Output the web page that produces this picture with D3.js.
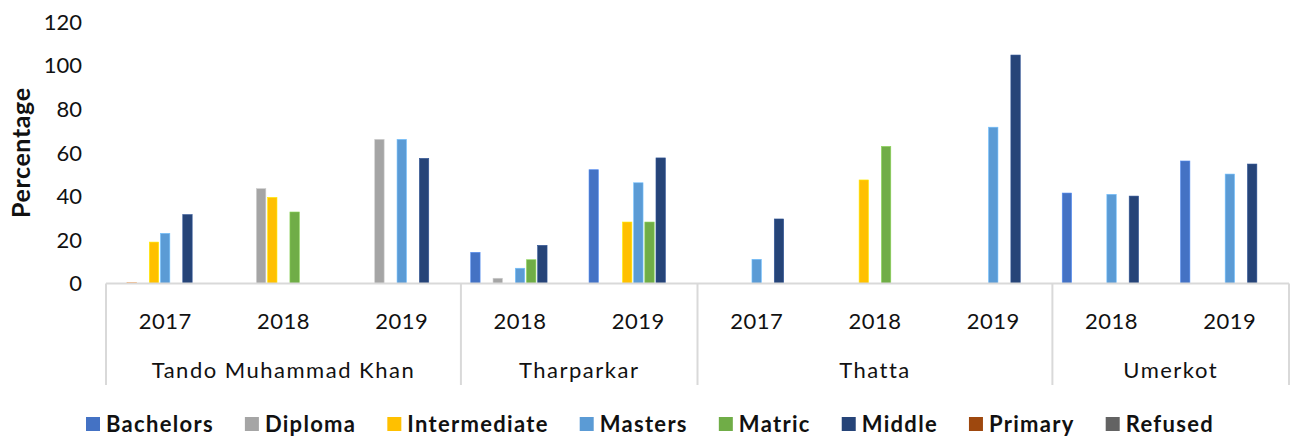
<!DOCTYPE html>
<html>
<head>
<meta charset="utf-8">
<script src="https://cdn.jsdelivr.net/npm/d3@7"></script>
<style>
  html, body { margin: 0; padding: 0; background: #fff; }
  svg { display: block; font-family: Lato, "Open Sans", sans-serif; }
</style>
</head>
<body>
<svg id="chart" width="1291" height="441"></svg>
<script>
// ---- data ----
const districts = ["Tando Muhammad Khan", "Tharparkar", "Thatta", "Umerkot"];
const groups = [
  ["Tando Muhammad Khan", "2017"], ["Tando Muhammad Khan", "2018"], ["Tando Muhammad Khan", "2019"],
  ["Tharparkar", "2018"], ["Tharparkar", "2019"],
  ["Thatta", "2017"], ["Thatta", "2018"], ["Thatta", "2019"],
  ["Umerkot", "2018"], ["Umerkot", "2019"]
];
// series in plotting order ("" = series without legend entry)
const seriesNames = ["Bachelors", "", "Diploma", "Intermediate", "Masters", "Matric", "Middle", "Primary", "Refused"];
const seriesColors = ["#4472C4", "#ED7D31", "#A5A5A5", "#FFC000", "#5B9BD5", "#70AD47", "#264478", "#9E480E", "#636363"];
const bachelors    = [0, 0, 0, 14.3, 52.2, 0, 0, 0, 41.5, 56.2];
const unnamed      = [0.4, 0, 0, 0, 0, 0, 0, 0, 0, 0];
const diploma      = [0, 43.5, 66.1, 2.4, 0, 0, 0, 0, 0, 0];
const intermediate = [19, 39.5, 0, 0, 28.2, 0, 47.5, 0, 0, 0];
const masters      = [23, 0, 66.1, 7, 46.2, 11.1, 0, 71.7, 40.9, 50.2];
const matric       = [0, 32.8, 0, 10.9, 28.2, 0, 62.9, 0, 0, 0];
const middle       = [31.6, 0, 57.4, 17.5, 57.6, 29.6, 0, 104.8, 40.1, 54.8];
const primary      = [0, 0, 0, 0, 0, 0, 0, 0, 0, 0];
const refused      = [0, 0, 0, 0, 0, 0, 0, 0, 0, 0];
const seriesValues = [bachelors, unnamed, diploma, intermediate, masters, matric, middle, primary, refused];
const yTicks = [0, 20, 40, 60, 80, 100, 120];
const yTitle = "Percentage";

// ---- layout ----
const svg = d3.select("#chart");
const plotLeft = 106, plotRight = 1289, plotTop = 21.9, plotBase = 283.5, catBottom = 385;

const x0 = d3.scaleBand().domain(d3.range(groups.length)).range([plotLeft, plotRight]).padding(0);
const x1 = d3.scaleBand().domain(d3.range(seriesNames.length)).range([0, x0.bandwidth()])
  .paddingInner(0).paddingOuter(0.8);
const y = d3.scaleLinear().domain([0, 120]).range([plotBase, plotTop]);

// y tick labels
svg.append("g").selectAll("text").data(yTicks).join("text")
  .attr("x", 82).attr("y", d => y(d)).attr("dy", "0.36em")
  .attr("text-anchor", "end").attr("font-size", 22).attr("fill", "#111")
  .text(d => d);

// y title
svg.append("text")
  .attr("transform", `translate(30,${(plotTop + plotBase) / 2}) rotate(-90)`)
  .attr("text-anchor", "middle").attr("font-size", 25).attr("font-weight", 700).attr("fill", "#111")
  .attr("letter-spacing", 0.6)
  .text(yTitle);

// bars
const barW = x1.bandwidth() * 0.84;
seriesValues.forEach((vals, si) => {
  svg.append("g").selectAll("rect").data(vals).join("rect")
    .attr("x", (d, gi) => x0(gi) + x1(si) + (x1.bandwidth() - barW) / 2)
    .attr("y", d => y(d))
    .attr("width", barW)
    .attr("height", d => plotBase - y(d))
    .attr("fill", seriesColors[si])
    .attr("stroke", d3.color(seriesColors[si]).brighter(0.6))
    .attr("stroke-width", d => d > 0 ? 0.6 : 0);
});

// category axis line and dividers
const axisColor = "#d9d9d9";
svg.append("line").attr("x1", plotLeft).attr("x2", plotRight).attr("y1", plotBase).attr("y2", plotBase)
  .attr("stroke", axisColor).attr("stroke-width", 2);
const boundaries = [];
districts.forEach(dn => {
  const idx = groups.map((g, i) => g[0] === dn ? i : -1).filter(i => i >= 0);
  boundaries.push({ name: dn, x0: x0(idx[0]), x1: x0(idx[idx.length - 1]) + x0.bandwidth() });
});
const divXs = [plotLeft].concat(boundaries.map(b => b.x1));
svg.append("g").selectAll("line").data(divXs).join("line")
  .attr("x1", d => d).attr("x2", d => d).attr("y1", plotBase).attr("y2", catBottom)
  .attr("stroke", axisColor).attr("stroke-width", 2);

// year labels
svg.append("g").selectAll("text").data(groups).join("text")
  .attr("x", (d, i) => x0(i) + x0.bandwidth() / 2).attr("y", 321).attr("dy", "0.36em")
  .attr("text-anchor", "middle").attr("font-size", 22).attr("fill", "#111")
  .attr("letter-spacing", 0.5)
  .text(d => d[1]);

// district labels
svg.append("g").selectAll("text").data(boundaries).join("text")
  .attr("x", d => (d.x0 + d.x1) / 2).attr("y", 370).attr("dy", "0.36em")
  .attr("text-anchor", "middle").attr("font-size", 22).attr("fill", "#111")
  .attr("letter-spacing", 1.5)
  .text(d => d.name);

// legend (named series only)
const legendItems = seriesNames.map((n, i) => ({ name: n, color: seriesColors[i] })).filter(d => d.name !== "");
const lg = svg.append("g");
const items = lg.selectAll("g").data(legendItems).join("g");
items.append("rect").attr("width", 14).attr("height", 14).attr("y", -7).attr("fill", d => d.color);
items.append("text").attr("x", 20).attr("dy", "0.36em").attr("font-size", 22).attr("font-weight", 700)
  .attr("fill", "#111").attr("letter-spacing", 1.3).text(d => d.name);
let cx = 0;
const gap = 31;
const widths = [];
items.each(function () { widths.push(this.getBBox().width); });
const startX = 86;
items.attr("transform", (d, i) => {
  const t = `translate(${startX + cx},424)`;
  cx += widths[i] + gap;
  return t;
});
</script>
</body>
</html>
